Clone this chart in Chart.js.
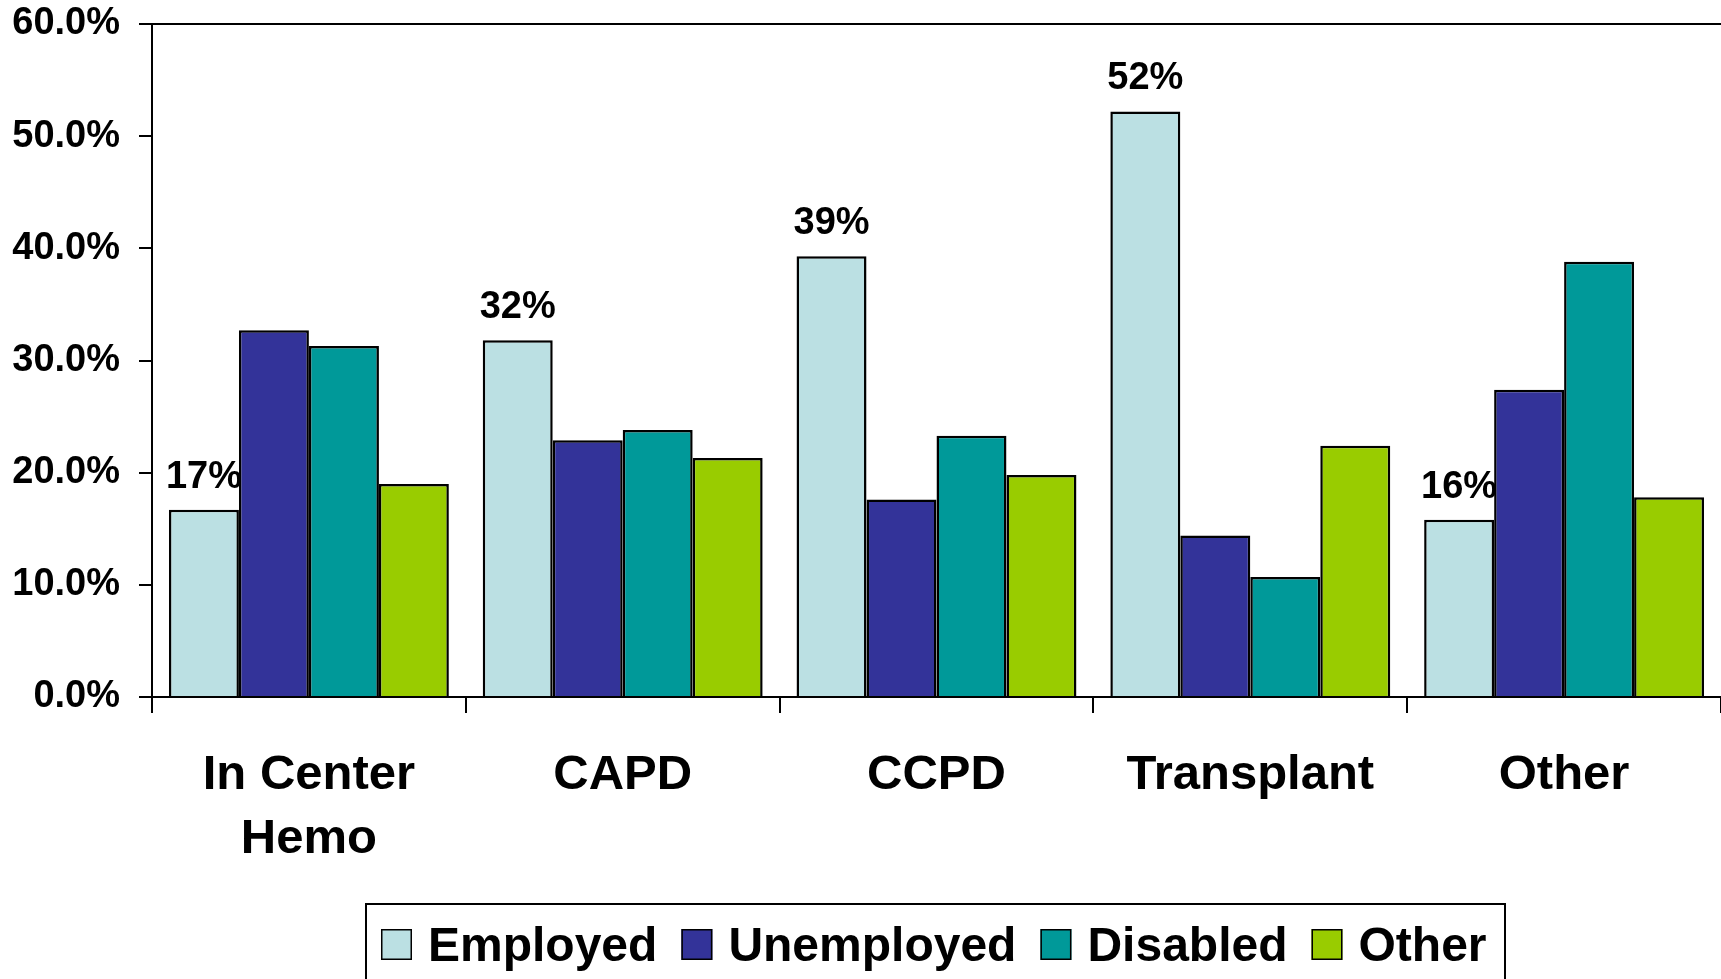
<!DOCTYPE html>
<html>
<head>
<meta charset="utf-8">
<script src="https://cdn.jsdelivr.net/npm/chart.js@4.4.0/dist/chart.umd.min.js"></script>
<style>
  body { margin: 0; background: #fff; overflow: hidden; }
  canvas { display: block; }
</style>
</head>
<body>
<canvas id="myChart" width="1721" height="979"></canvas>
<script>
// categories (x axis), multi-line labels as arrays
var categories = [["In Center", "Hemo"], "CAPD", "CCPD", "Transplant", "Other"];

// series values, in percent
var employed   = [16.7, 31.8, 39.3, 52.2, 15.8];
var unemployed = [32.7, 22.9, 17.6, 14.4, 27.4];
var disabled   = [31.3, 23.8, 23.3, 10.7, 38.8];
var other      = [19.0, 21.3, 19.8, 22.4, 17.8];

var seriesNames = ["Employed", "Unemployed", "Disabled", "Other"];
var seriesColors = ["#BBE0E3", "#333399", "#009999", "#99CC00"];

// y axis ticks
var yMin = 0;
var yMax = 60;
var yStep = 10;

var fontFamily = "'Liberation Sans', Arial, sans-serif";

// puts "17%" etc above the employed bars
var employedLabels = {
    id: 'employedLabels',
    afterDatasetsDraw: function(chart) {
        var ctx = chart.ctx;
        var meta = chart.getDatasetMeta(0);
        ctx.save();
        ctx.font = "bold 38px " + fontFamily;
        ctx.fillStyle = "#000";
        ctx.textAlign = "center";
        ctx.textBaseline = "alphabetic";
        for (var i = 0; i < meta.data.length; i++) {
            var bar = meta.data[i];
            ctx.fillText(Math.round(employed[i]) + "%", bar.x, bar.y - 22);
        }
        ctx.restore();
    }
};

// top border of plot area + boxed legend at the bottom
var frameAndLegend = {
    id: 'frameAndLegend',
    afterDraw: function(chart) {
        var ctx = chart.ctx;
        var area = chart.chartArea;
        ctx.save();
        ctx.strokeStyle = "#000";
        ctx.lineWidth = 2;
        ctx.beginPath();
        ctx.moveTo(area.left - 13, area.top);
        ctx.lineTo(area.right, area.top);
        ctx.stroke();

        // legend
        var boxLeft = 366, boxTop = 904, boxRight = 1505;
        ctx.lineWidth = 2;
        ctx.strokeRect(boxLeft, boxTop, boxRight - boxLeft, 100);

        ctx.font = "bold 48px " + fontFamily;
        ctx.textBaseline = "alphabetic";
        ctx.textAlign = "left";
        var x = 381;
        for (var i = 0; i < seriesNames.length; i++) {
            ctx.fillStyle = seriesColors[i];
            ctx.fillRect(x, 929, 31, 31);
            ctx.lineWidth = 1.5;
            ctx.strokeStyle = "#000";
            ctx.strokeRect(x + 0.75, 929.75, 29.5, 29.5);
            ctx.fillStyle = "#000";
            ctx.fillText(seriesNames[i], x + 47, 961);
            x += 47 + ctx.measureText(seriesNames[i]).width + 24;
        }
        ctx.restore();
    }
};

function makeDataset(i, values) {
    return {
        label: seriesNames[i],
        data: values,
        backgroundColor: seriesColors[i],
        borderColor: "#000",
        borderWidth: 2.5,
        categoryPercentage: 0.892,
        barPercentage: 1.0
    };
}

var ctx = document.getElementById('myChart').getContext('2d');
var myChart = new Chart(ctx, {
    type: 'bar',
    data: {
        labels: categories,
        datasets: [
            makeDataset(0, employed),
            makeDataset(1, unemployed),
            makeDataset(2, disabled),
            makeDataset(3, other)
        ]
    },
    options: {
        responsive: false,
        animation: false,
        layout: { padding: { top: 24, left: 0, right: 0, bottom: 0 } },
        plugins: {
            legend: { display: false },
            tooltip: { enabled: false },
            title: { display: false }
        },
        scales: {
            x: {
                grid: {
                    display: true,
                    drawOnChartArea: false,
                    offset: true,
                    color: "#000",
                    lineWidth: 2,
                    tickLength: 16
                },
                border: { display: true, color: "#000", width: 2 },
                ticks: {
                    color: "#000",
                    font: { family: fontFamily, size: 49, weight: 'bold', lineHeight: 1.3 },
                    maxRotation: 0,
                    autoSkip: false,
                    padding: 31
                },
                afterFit: function(scale) {
                    scale.height = 282;
                    scale.paddingLeft = 0;
                    scale.paddingRight = 0;
                }
            },
            y: {
                min: yMin,
                max: yMax,
                grid: {
                    display: true,
                    drawOnChartArea: false,
                    color: "#000",
                    lineWidth: 2,
                    tickLength: 13
                },
                border: { display: true, color: "#000", width: 2 },
                ticks: {
                    stepSize: yStep,
                    color: "#000",
                    padding: 19,
                    font: { family: fontFamily, size: 38, weight: 'bold' },
                    callback: function(v) { return v.toFixed(1) + "%"; }
                },
                afterFit: function(scale) {
                    scale.width = 152;
                    scale.paddingTop = 0;
                    scale.paddingBottom = 0;
                }
            }
        }
    },
    plugins: [employedLabels, frameAndLegend]
});
</script>
</body>
</html>
